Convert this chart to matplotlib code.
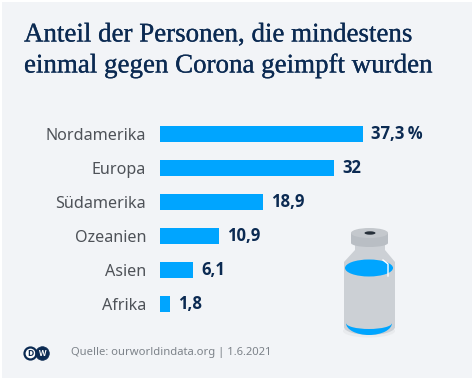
import matplotlib
matplotlib.use("Agg")
import matplotlib.pyplot as plt
import matplotlib.patheffects as pe
from matplotlib.patches import Ellipse, Rectangle, Polygon, Circle

# --- DATA ---
regions = ["Nordamerika", "Europa", "Südamerika", "Ozeanien", "Asien", "Afrika"]
values = [37.3, 32, 18.9, 10.9, 6.1, 1.8]
value_labels = ["37,3\u2009%", "32", "18,9", "10,9", "6,1", "1,8"]
title_lines = ["Anteil der Personen, die mindestens", "einmal gegen Corona geimpft wurden"]
source = "Quelle: ourworldindata.org | 1.6.2021"

# --- COLORS ---
bg = "#f2f4f7"
navy = "#0b2a52"
blue = "#00a5ff"
grey_text = "#4e5258"
vial = "#ccd0d5"
cap = "#b9bec4"

W, H = 474, 380
fig = plt.figure(figsize=(W / 100, H / 100), dpi=100, facecolor="white")

# background layer in pixel coords
bgax = fig.add_axes([0, 0, 1, 1])
bgax.set_xlim(0, W)
bgax.set_ylim(H, 0)
bgax.axis("off")
bgax.add_patch(Rectangle((2, 2), W - 4, H - 4, color=bg, lw=0))

# title, thickened a little because the serif is lighter than the original
thick = [pe.withStroke(linewidth=0.2, foreground=navy)]
bgax.text(24, 35, title_lines[0], fontsize=19.4, family="Liberation Serif", color=navy, va="center", path_effects=thick)
bgax.text(24, 66, title_lines[1], fontsize=19.4, family="Liberation Serif", color=navy, va="center", path_effects=thick)
bgax.text(71, 352, source, fontsize=8.1, family="Noto Sans", color="#7d838a", va="center")

# DW logo
bgax.add_patch(Circle((30.5, 353.5), 6.0, fc="white", ec=navy, lw=1.6))
bgax.add_patch(Circle((42.5, 353.5), 6.8, fc=navy, ec=navy, lw=0.5))
bgax.text(30.5, 353.7, "D", fontsize=6.2, fontweight="bold", family="Open Sans", color=navy, ha="center", va="center")
bgax.text(42.5, 353.7, "W", fontsize=5.6, fontweight="bold", family="Open Sans", color="white", ha="center", va="center")

# vial
bgax.add_patch(Ellipse((369, 331), 52, 13, fc="#e9ebee", ec="none"))
bgax.add_patch(Polygon([(355, 240), (385, 240), (385, 250), (395, 262), (395, 326), (344, 326), (344, 262), (355, 250)], fc=vial, ec="none"))
bgax.add_patch(Ellipse((369.5, 327), 51, 16, fc=vial, ec="none"))
bgax.add_patch(Ellipse((369, 323), 46, 24, fc=blue, ec="none"))
bgax.add_patch(Rectangle((345, 309), 48, 14, fc=vial, ec="none"))
bgax.add_patch(Ellipse((369, 323), 46, 12, fc=vial, ec="none"))
bgax.add_patch(Ellipse((369, 268), 48, 17, fc=blue, ec="none"))
bgax.plot([383, 388, 388], [260, 264, 276], color="white", lw=1.0)
bgax.add_patch(Ellipse((369.5, 243), 37, 8, fc=cap, ec="none"))
bgax.add_patch(Rectangle((351, 233), 37, 10, fc=cap, ec="none"))
bgax.add_patch(Ellipse((369.5, 233), 37, 10, fc="#c4c8cd", ec="none"))
bgax.add_patch(Ellipse((370, 233), 11, 3.4, fc="#27303a", ec="none"))

# --- BARS ---
ax = fig.add_axes([160 / W, 1 - 321 / H, 314 / W, (321 - 117) / H])
ax.patch.set_alpha(0)
ax.barh(range(len(regions)), values, height=16 / 34, color=blue)
ax.set_xlim(0, 314 / 5.44)
ax.set_ylim(5.5, -0.5)
ax.set_yticks(range(len(regions)))
ax.set_yticklabels(regions, fontsize=11.6, family="Noto Sans", color=grey_text)
ax.tick_params(axis="y", length=0, pad=10)
ax.set_xticks([])
for s in ax.spines.values():
    s.set_visible(False)
for i, (v, lab) in enumerate(zip(values, value_labels)):
    ax.annotate(lab, (v, i), xytext=(5.8, 0), textcoords="offset points", fontsize=12,
                fontweight="bold", family="Open Sans", color=navy, va="center")

fig.savefig("out.png", dpi=100, facecolor=fig.get_facecolor())
